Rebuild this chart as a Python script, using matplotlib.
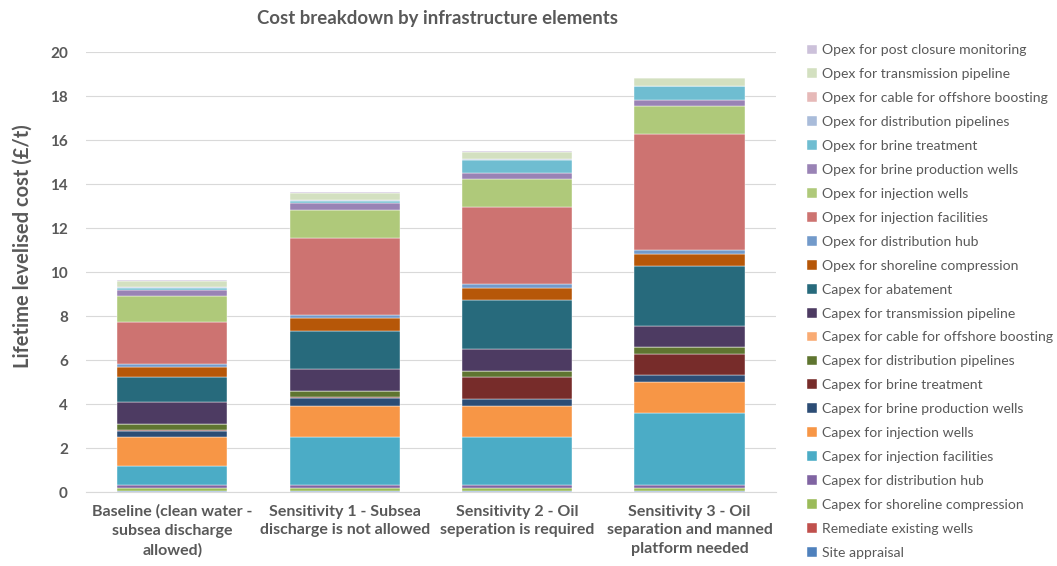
import numpy as np
import matplotlib.pyplot as plt

plt.rcParams['font.family'] = ['Lato', 'DejaVu Sans']

scenarios = ["Baseline (clean water -\nsubsea discharge\nallowed)",
             "Sensitivity 1 - Subsea\ndischarge is not allowed",
             "Sensitivity 2 - Oil\nseperation is required",
             "Sensitivity 3 - Oil\nseparation and manned\nplatform needed"]

# cost elements, bottom of the stack first (£/t)
site_appraisal = [0.03, 0.03, 0.03, 0.03]
remediate_wells = [0.03, 0.03, 0.03, 0.03]
capex_shoreline = [0.12, 0.12, 0.12, 0.12]
capex_dist_hub = [0.14, 0.14, 0.14, 0.14]
capex_inj_facilities = [0.86, 2.17, 2.17, 3.26]
capex_inj_wells = [1.33, 1.43, 1.43, 1.43]
capex_brine_prod = [0.26, 0.34, 0.31, 0.33]
capex_brine_treat = [0.06, 0.08, 1.01, 0.95]
capex_dist_pipes = [0.28, 0.24, 0.27, 0.30]
capex_cable = [0.0, 0.0, 0.0, 0.0]
capex_transmission = [0.96, 0.99, 0.99, 0.96]
capex_abatement = [1.16, 1.75, 2.23, 2.73]
opex_shoreline = [0.46, 0.58, 0.56, 0.56]
opex_dist_hub = [0.15, 0.15, 0.15, 0.15]
opex_inj_facilities = [1.89, 3.52, 3.53, 5.27]
opex_inj_wells = [1.20, 1.27, 1.26, 1.29]
opex_brine_prod = [0.24, 0.30, 0.28, 0.29]
opex_brine_treat = [0.10, 0.10, 0.60, 0.60]
opex_dist_pipes = [0.03, 0.03, 0.03, 0.03]
opex_cable = [0.0, 0.0, 0.0, 0.0]
opex_transmission = [0.30, 0.33, 0.34, 0.35]
opex_post_closure = [0.02, 0.02, 0.02, 0.02]

series = [
    ("Site appraisal", site_appraisal, "#4F81BD"),
    ("Remediate existing wells", remediate_wells, "#C0504D"),
    ("Capex for shoreline compression", capex_shoreline, "#9BBB59"),
    ("Capex for distribution hub", capex_dist_hub, "#8064A2"),
    ("Capex for injection facilities", capex_inj_facilities, "#4BACC6"),
    ("Capex for injection wells", capex_inj_wells, "#F79646"),
    ("Capex for brine production wells", capex_brine_prod, "#2C4D75"),
    ("Capex for brine treatment", capex_brine_treat, "#772C2A"),
    ("Capex for distribution pipelines", capex_dist_pipes, "#5F7530"),
    ("Capex for cable for offshore boosting", capex_cable, "#F9AB73"),
    ("Capex for transmission pipeline", capex_transmission, "#4D3B62"),
    ("Capex for abatement", capex_abatement, "#276A7C"),
    ("Opex for shoreline compression", opex_shoreline, "#B65708"),
    ("Opex for distribution hub", opex_dist_hub, "#729ACA"),
    ("Opex for injection facilities", opex_inj_facilities, "#CD7371"),
    ("Opex for injection wells", opex_inj_wells, "#AFC97A"),
    ("Opex for brine production wells", opex_brine_prod, "#9983B5"),
    ("Opex for brine treatment", opex_brine_treat, "#6FBDD1"),
    ("Opex for distribution pipelines", opex_dist_pipes, "#A9BCDA"),
    ("Opex for cable for offshore boosting", opex_cable, "#E6B9B8"),
    ("Opex for transmission pipeline", opex_transmission, "#D3E0C0"),
    ("Opex for post closure monitoring", opex_post_closure, "#CCC1DA"),
]

fig = plt.figure(figsize=(10.57, 5.66), dpi=100)
ax = fig.add_axes([0.0814, 0.1307, 0.6526, 0.7773])

x = np.arange(len(scenarios))
bottom = np.zeros(len(scenarios))
handles = []
for label, vals, col in series:
    b = ax.bar(x, vals, width=0.64, bottom=bottom, color=col, label=label,
               edgecolor="white", linewidth=0.3, zorder=3)
    handles.append(b)
    bottom += np.array(vals)

grey = "#595959"
ax.set_xlim(-0.5, len(scenarios) - 0.5)
ax.set_ylim(0, 20)
ax.set_yticks(np.arange(0, 21, 2))
ax.yaxis.grid(True, color="#D9D9D9", linewidth=0.8, zorder=0)
ax.tick_params(axis="both", length=0, colors=grey, labelsize=11)
ax.tick_params(axis="y", pad=13)
ax.tick_params(axis="x", pad=9)
ax.set_xticks(x)
ax.set_xticklabels(scenarios, fontsize=11.5, fontweight="bold", color=grey,
                   linespacing=1.45)
for lbl in ax.get_yticklabels():
    lbl.set_fontweight("bold")
for s in ["top", "right", "left"]:
    ax.spines[s].set_visible(False)
ax.spines["bottom"].set_color("#D9D9D9")

ax.set_ylabel("Lifetime levelised cost (£/t)", fontsize=14.5, fontweight="bold",
              color=grey)
ax.yaxis.set_label_coords(-0.077, 0.56)
fig.text(0.414, 0.968, "Cost breakdown by infrastructure elements", ha="center",
         va="center", fontsize=13.4, fontweight="bold", color=grey)

fig.legend(handles[::-1], [s[0] for s in series][::-1], loc="upper left",
           bbox_to_anchor=(0.758, 0.9315), frameon=False, fontsize=10.1,
           labelcolor=grey, handlelength=0.7, handleheight=0.7,
           handletextpad=0.4, labelspacing=0.85, borderaxespad=0)

fig.savefig("out.png", dpi=100)
